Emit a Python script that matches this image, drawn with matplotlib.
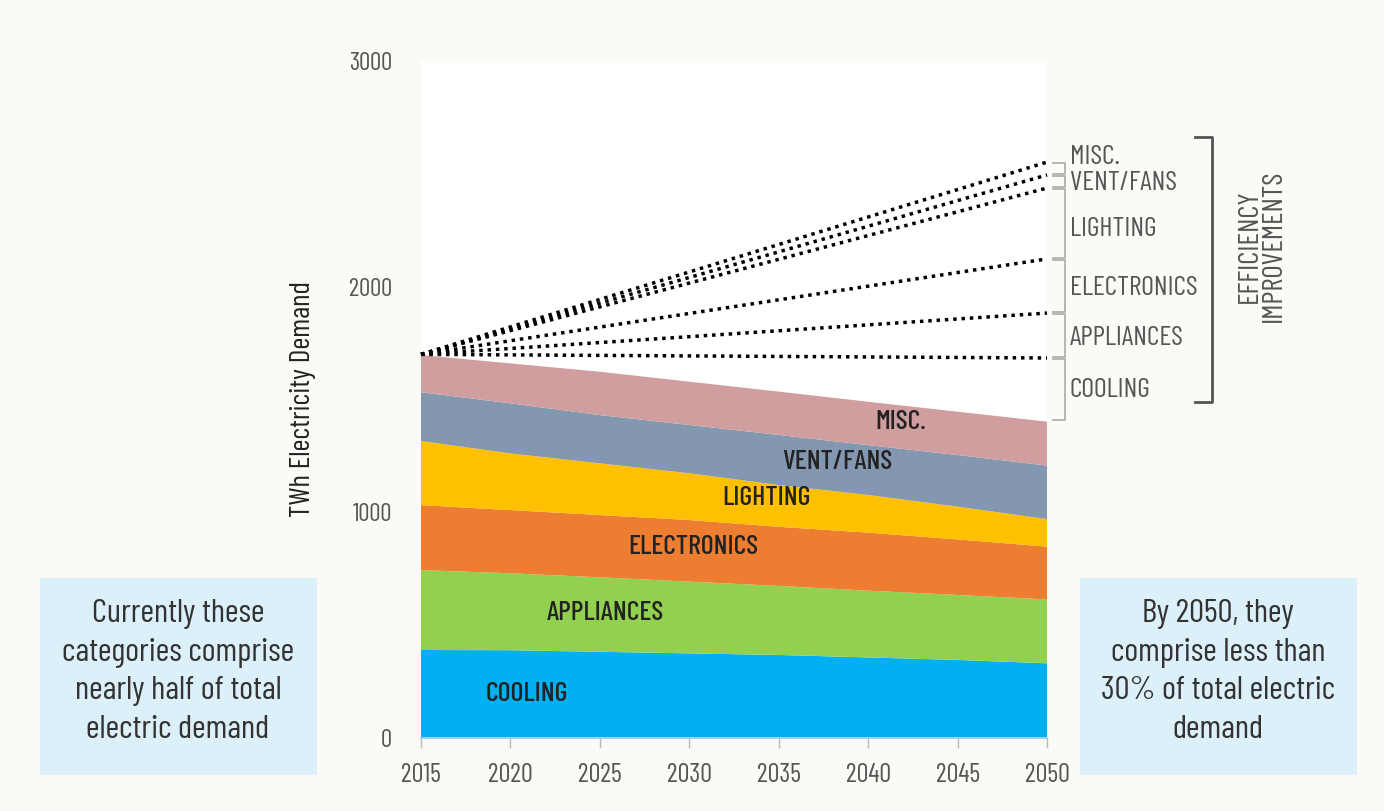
import numpy as np
import matplotlib
matplotlib.use("Agg")
import matplotlib.pyplot as plt

plt.rcParams['font.family'] = ['Barlow Condensed', 'DejaVu Sans']

# data (TWh)
years = [2015, 2020, 2025, 2030, 2035, 2040, 2045, 2050]
cooling = [390, 389, 382, 375, 368, 357, 346, 331]
appliances = [354, 341, 330, 318, 306, 296, 288, 283]
electronics = [288, 280, 276, 273, 262, 257, 246, 234]
lighting = [284, 251, 229, 207, 185, 167, 145, 122]
vent_fans = [216, 222, 214, 214, 222, 221, 229, 237]
misc = [165, 177, 192, 192, 192, 192, 192, 195]

categories = ["COOLING", "APPLIANCES", "ELECTRONICS", "LIGHTING", "VENT/FANS", "MISC."]
colors = ["#00B0F0", "#92D050", "#ED7D31", "#FFC000", "#8497B0", "#D09E9E"]

# dotted "without efficiency" lines: common start in 2015, cumulative end in 2050
dotted_start = 1700
dotted_end = [1684, 1883, 2123, 2437, 2495, 2552]

# label spots inside the areas (year, TWh)
area_label_x = [2020.9, 2025.3, 2030.2, 2034.3, 2038.3, 2041.8]
area_label_y = [194, 553, 846, 1063, 1223, 1400]
# labels at the right side (TWh)
right_label_y = [1542, 1772, 1994, 2255, 2459, 2575]

bg = "#FBFAF6"
fig = plt.figure(figsize=(13.84, 8.11), dpi=100, facecolor=bg)
ax = fig.add_axes([0.3042, 0.0900, 0.4523, 0.8348])
ax.set_facecolor("white")

ax.stackplot(years, cooling, appliances, electronics, lighting, vent_fans, misc,
             colors=colors, linewidth=0)

for yend in dotted_end:
    ax.plot([years[0], years[-1]], [dotted_start, yend], color="black",
            linestyle=(0, (1, 1.4)), linewidth=2.5, clip_on=False)

for name, x, y in zip(categories, area_label_x, area_label_y):
    ax.text(x, y, name, ha="center", va="center", fontsize=20, fontweight=500,
            color="#222222")

# small brackets to the right of 2050
px = 35 / 626.0  # years per pixel
total_2050 = sum(s[-1] for s in [cooling, appliances, electronics, lighting, vent_fans, misc])
levels = [total_2050] + dotted_end
gap = 6
for i in range(len(dotted_end)):
    lo = levels[i] + gap
    hi = levels[i + 1] - gap
    xa = 2050 + 6 * px
    xb = 2050 + 18 * px
    ax.plot([xa, xb, xb, xa], [hi, hi, lo, lo], color="#AAAAAA", linewidth=1.2,
            clip_on=False)
    ax.text(2050 + 23 * px, right_label_y[i], categories[i], ha="left", va="center",
            fontsize=20, color="#555555")

# big bracket
xa = 2050 + 148 * px
xb = 2050 + 165 * px
ax.plot([xa, xb, xb, xa], [2663, 2663, 1489, 1489], color="#555555", linewidth=2,
        clip_on=False)
ax.text(2050 + 215 * px, 2180, "EFFICIENCY\nIMPROVEMENTS", rotation=90, ha="center",
        va="center", fontsize=21, color="#555555", linespacing=0.9)

ax.set_xlim(2015, 2050)
ax.set_ylim(0, 3000)
ax.set_xticks(years)
ax.set_yticks([0, 1000, 2000, 3000])
ax.tick_params(axis="x", direction="out", length=7, width=1, color="#BBBBBB",
               labelsize=19, labelcolor="#555555", pad=11)
ax.tick_params(axis="y", length=0, labelsize=18, labelcolor="#555555", pad=21)
for s in ["top", "right", "left"]:
    ax.spines[s].set_visible(False)
ax.spines["bottom"].set_color("#9CD3F0")
ax.spines["bottom"].set_linewidth(1.5)

ax.set_ylabel("TWh Electricity Demand", fontsize=21, color="#222222")
ax.yaxis.set_label_coords(-0.168, 0.5)

# side notes
for x0 in [40, 1080]:
    fig.patches.append(plt.Rectangle((x0 / 1384, 1 - 775 / 811), 277 / 1384, 197 / 811,
                                     transform=fig.transFigure, facecolor="#DCF0FA",
                                     edgecolor="none"))
fig.text(178 / 1384, 1 - 672 / 811,
         "Currently these\ncategories comprise\nnearly half of total\nelectric demand",
         ha="center", va="center", fontsize=24, color="#333333", linespacing=1.38)
fig.text(1218 / 1384, 1 - 672 / 811,
         "By 2050, they\ncomprise less than\n30% of total electric\ndemand",
         ha="center", va="center", fontsize=24, color="#333333", linespacing=1.38)

fig.savefig("out.png", dpi=100, facecolor=bg)
